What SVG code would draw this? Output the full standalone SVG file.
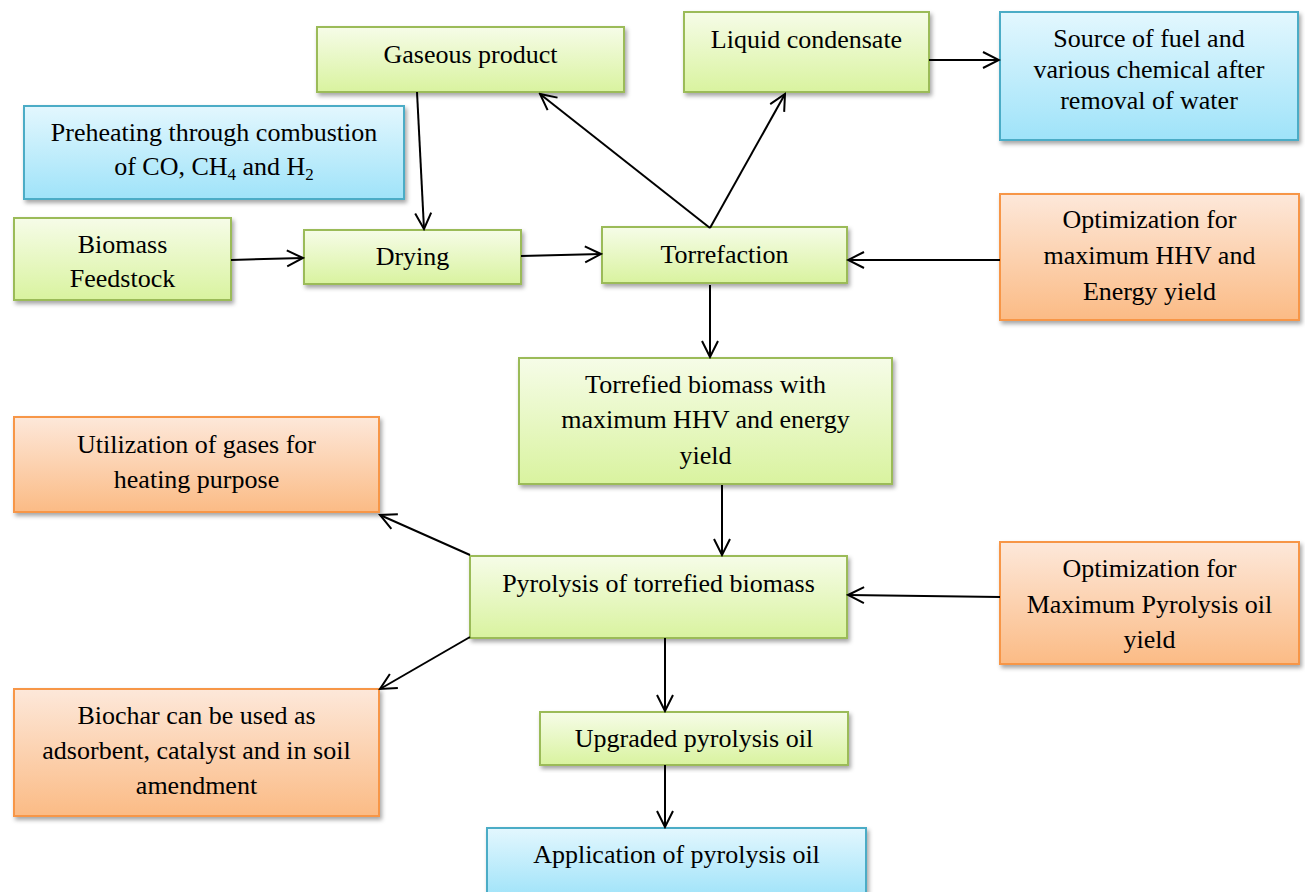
<svg xmlns="http://www.w3.org/2000/svg" width="1305" height="892" viewBox="0 0 1305 892">
<defs>
<linearGradient id="gG" x1="0" y1="0" x2="0" y2="1"><stop offset="0" stop-color="#f6fce8"/><stop offset="1" stop-color="#d9f39f"/></linearGradient>
<linearGradient id="gB" x1="0" y1="0" x2="0" y2="1"><stop offset="0" stop-color="#e3f7fe"/><stop offset="1" stop-color="#9fe3f9"/></linearGradient>
<linearGradient id="gO" x1="0" y1="0" x2="0" y2="1"><stop offset="0" stop-color="#fde8da"/><stop offset="1" stop-color="#fbbb85"/></linearGradient>
<filter id="sh" x="-5%" y="-5%" width="112%" height="120%"><feDropShadow dx="2" dy="3" stdDeviation="2" flood-color="#000" flood-opacity="0.35"/></filter>
<marker id="ar" viewBox="0 0 20 20" refX="18" refY="10" markerWidth="20" markerHeight="20" markerUnits="userSpaceOnUse" orient="auto"><path d="M2,2 L18,10 L2,18" fill="none" stroke="#000" stroke-width="2"/></marker>
<rect id="dummy" width="0" height="0"/>
</defs>
<rect width="1305" height="892" fill="#fff"/>
<g font-size="26" text-anchor="middle">
<g id="gaseous"><rect fill="url(#gG)" stroke="#9bbb59" stroke-width="2" filter="url(#sh)" x="317" y="27" width="307" height="65"/><text style="font-family:'Liberation Serif'" font-family="Liberation Serif" fill="#000" x="470.5" y="63">Gaseous product</text></g>
<g id="liquid"><rect fill="url(#gG)" stroke="#9bbb59" stroke-width="2" filter="url(#sh)" x="684" y="12" width="245" height="80"/><text style="font-family:'Liberation Serif'" font-family="Liberation Serif" fill="#000" x="806.5" y="48">Liquid condensate</text></g>
<g id="source"><rect fill="url(#gB)" stroke="#4bacc6" stroke-width="2" filter="url(#sh)" x="1000" y="12" width="298" height="128"/><text style="font-family:'Liberation Serif'" font-family="Liberation Serif" fill="#000" x="1149" y="47">Source of fuel and</text><text style="font-family:'Liberation Serif'" font-family="Liberation Serif" fill="#000" x="1149" y="78">various chemical after</text><text style="font-family:'Liberation Serif'" font-family="Liberation Serif" fill="#000" x="1149" y="109">removal of water</text></g>
<g id="preheating"><rect fill="url(#gB)" stroke="#4bacc6" stroke-width="2" filter="url(#sh)" x="24" y="106" width="380" height="93"/><text style="font-family:'Liberation Serif'" font-family="Liberation Serif" fill="#000" x="214" y="141">Preheating through combustion</text><text style="font-family:'Liberation Serif'" font-family="Liberation Serif" fill="#000" x="214" y="175">of CO, CH<tspan font-size="17" dy="5">4</tspan><tspan dy="-5"> and H</tspan><tspan font-size="17" dy="5">2</tspan></text></g>
<g id="biomass"><rect fill="url(#gG)" stroke="#9bbb59" stroke-width="2" filter="url(#sh)" x="14" y="218" width="217" height="82"/><text style="font-family:'Liberation Serif'" font-family="Liberation Serif" fill="#000" x="122.5" y="253">Biomass</text><text style="font-family:'Liberation Serif'" font-family="Liberation Serif" fill="#000" x="122.5" y="287">Feedstock</text></g>
<g id="drying"><rect fill="url(#gG)" stroke="#9bbb59" stroke-width="2" filter="url(#sh)" x="304" y="230" width="217" height="54"/><text style="font-family:'Liberation Serif'" font-family="Liberation Serif" fill="#000" x="412.5" y="265">Drying</text></g>
<g id="torrefaction"><rect fill="url(#gG)" stroke="#9bbb59" stroke-width="2" filter="url(#sh)" x="602" y="227" width="245" height="56"/><text style="font-family:'Liberation Serif'" font-family="Liberation Serif" fill="#000" x="724.5" y="263">Torrefaction</text></g>
<g id="opt1"><rect fill="url(#gO)" stroke="#f79646" stroke-width="2" filter="url(#sh)" x="1000" y="194" width="299" height="126"/><text style="font-family:'Liberation Serif'" font-family="Liberation Serif" fill="#000" x="1149.5" y="228">Optimization for</text><text style="font-family:'Liberation Serif'" font-family="Liberation Serif" fill="#000" x="1149.5" y="264">maximum HHV and</text><text style="font-family:'Liberation Serif'" font-family="Liberation Serif" fill="#000" x="1149.5" y="300">Energy yield</text></g>
<g id="torrefied"><rect fill="url(#gG)" stroke="#9bbb59" stroke-width="2" filter="url(#sh)" x="519" y="358" width="373" height="126"/><text style="font-family:'Liberation Serif'" font-family="Liberation Serif" fill="#000" x="705.5" y="393">Torrefied biomass with</text><text style="font-family:'Liberation Serif'" font-family="Liberation Serif" fill="#000" x="705.5" y="428">maximum HHV and energy</text><text style="font-family:'Liberation Serif'" font-family="Liberation Serif" fill="#000" x="705.5" y="464">yield</text></g>
<g id="utilization"><rect fill="url(#gO)" stroke="#f79646" stroke-width="2" filter="url(#sh)" x="14" y="417" width="365" height="95"/><text style="font-family:'Liberation Serif'" font-family="Liberation Serif" fill="#000" x="196.5" y="453">Utilization of gases for</text><text style="font-family:'Liberation Serif'" font-family="Liberation Serif" fill="#000" x="196.5" y="488">heating purpose</text></g>
<g id="pyrolysis"><rect fill="url(#gG)" stroke="#9bbb59" stroke-width="2" filter="url(#sh)" x="470" y="556" width="377" height="82"/><text style="font-family:'Liberation Serif'" font-family="Liberation Serif" fill="#000" x="658.5" y="592">Pyrolysis of torrefied biomass</text></g>
<g id="opt2"><rect fill="url(#gO)" stroke="#f79646" stroke-width="2" filter="url(#sh)" x="1000" y="542" width="299" height="122"/><text style="font-family:'Liberation Serif'" font-family="Liberation Serif" fill="#000" x="1149.5" y="577">Optimization for</text><text style="font-family:'Liberation Serif'" font-family="Liberation Serif" fill="#000" x="1149.5" y="613">Maximum Pyrolysis oil</text><text style="font-family:'Liberation Serif'" font-family="Liberation Serif" fill="#000" x="1149.5" y="648">yield</text></g>
<g id="biochar"><rect fill="url(#gO)" stroke="#f79646" stroke-width="2" filter="url(#sh)" x="14" y="689" width="365" height="127"/><text style="font-family:'Liberation Serif'" font-family="Liberation Serif" fill="#000" x="196.5" y="724">Biochar can be used as</text><text style="font-family:'Liberation Serif'" font-family="Liberation Serif" fill="#000" x="196.5" y="759">adsorbent, catalyst and in soil</text><text style="font-family:'Liberation Serif'" font-family="Liberation Serif" fill="#000" x="196.5" y="794">amendment</text></g>
<g id="upgraded"><rect fill="url(#gG)" stroke="#9bbb59" stroke-width="2" filter="url(#sh)" x="540" y="712" width="308" height="53"/><text style="font-family:'Liberation Serif'" font-family="Liberation Serif" fill="#000" x="694" y="747">Upgraded pyrolysis oil</text></g>
<g id="application"><rect fill="url(#gB)" stroke="#4bacc6" stroke-width="2" filter="url(#sh)" x="487" y="828" width="379" height="70"/><text style="font-family:'Liberation Serif'" font-family="Liberation Serif" fill="#000" x="676.5" y="863">Application of pyrolysis oil</text></g>
</g>
<g id="connectors" stroke="#000" stroke-width="2" marker-end="url(#ar)">
<line x1="417" y1="92" x2="424" y2="229"/>
<line x1="231" y1="260" x2="303" y2="258"/>
<line x1="521" y1="256" x2="601" y2="254"/>
<line x1="710" y1="228" x2="540" y2="94"/>
<line x1="710" y1="228" x2="785" y2="94"/>
<line x1="929" y1="60" x2="999" y2="60"/>
<line x1="1000" y1="260" x2="848" y2="260"/>
<line x1="710" y1="285" x2="710" y2="357"/>
<line x1="722" y1="485" x2="722" y2="555"/>
<line x1="470" y1="555" x2="380" y2="515"/>
<line x1="470" y1="637" x2="380" y2="689"/>
<line x1="1000" y1="597" x2="848" y2="595"/>
<line x1="665" y1="638" x2="665" y2="711"/>
<line x1="665" y1="765" x2="665" y2="827"/>
</g>
</svg>
